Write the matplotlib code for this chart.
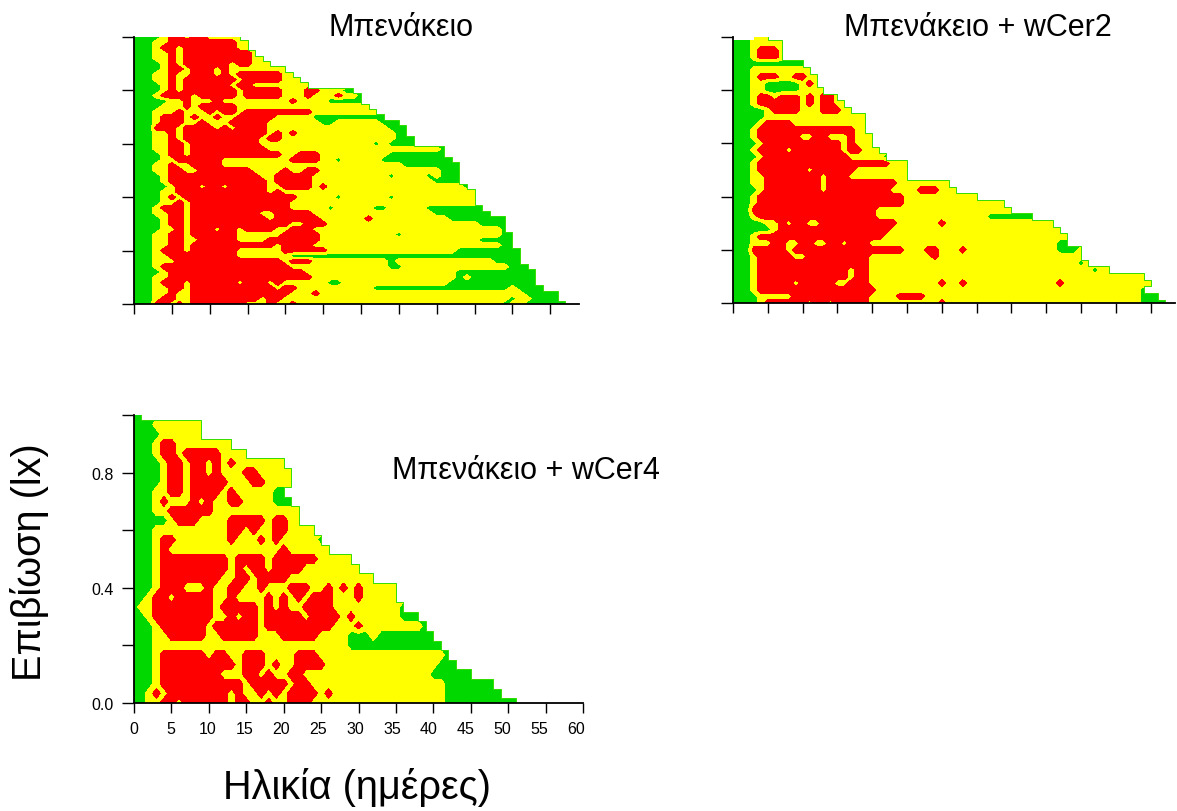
import re
import numpy as np
import matplotlib
matplotlib.use("Agg")
import matplotlib.pyplot as plt
from matplotlib.path import Path

plt.rcParams["font.family"] = ["Liberation Sans", "DejaVu Sans"]

# each row runs from lx=1 (top) to lx=0 (bottom); token = category + age where it stops
benakeio = [
    "G4 Y5 R7 Y8 R10 Y15", "G3 Y5 R14 Y16", "G3 Y4 R6 Y7 R14 Y16", "G3 Y5 R6 Y7 R16 Y17",
    "G3 Y5 R6 Y7 R16 Y18", "G4 Y5 R6 Y7 R13 Y14 R16 Y19", "G4 Y5 R7 Y8 R11 Y12 R13 Y15 Y21",
    "G3 Y5 R6 Y8 R11 Y12 R13 Y14 R20 Y22", "G3 Y5 R6 Y7 R14 Y15 R20 Y23",
    "G4 Y5 R6 Y7 R13 Y14 R16 Y24", "G4 Y5 R6 Y7 R14 Y15 R20 Y23 R25 Y28 G30",
    "G3 Y4 R8 Y9 R14 Y15 R20 Y23 R24 Y27 R28 Y30 G31", "G5 Y7 R8 Y11 R12 Y21 R22 Y26 G31",
    "G4 Y7 R8 Y9 R14 Y24 Y32", "G3 Y6 R7 Y10 R11 Y12 R14 Y15 R24 Y33",
    "G3 Y4 R7 Y8 R9 Y11 R12 Y14 R19 Y24 G34", "G3 Y4 R7 Y9 R10 Y13 R18 Y25 G27 Y33 G36",
    "G3 R6 Y7 R11 Y12 R13 Y14 R18 Y19 Y34 G37", "G3 Y5 R6 Y7 R18 Y19 R20 Y21 R22 Y35 G37",
    "G3 Y5 R6 Y7 R17 Y18 R20 Y35 G38", "G3 Y5 R7 Y8 R17 Y32 G33 Y34 G38",
    "G3 Y5 R7 Y8 R18 Y36 Y41 G42", "G4 Y5 R7 Y8 R20 Y22 R25 Y34 G42",
    "G4 Y6 R12 Y21 R25 Y27 G28 Y33 G43", "G3 Y5 R6 Y8 R12 Y21 Y36 G44",
    "G3 Y5 R7 Y9 R16 Y20 R21 Y23 R25 Y41 G44", "G4 Y5 R17 Y19 R24 Y34 G35 Y39 G40 Y41 G44",
    "G4 Y5 R18 Y19 R24 Y40 G44", "G5 Y6 R9 Y10 R12 Y13 R18 Y20 R24 Y25 R26 Y44 G45",
    "G4 Y6 R18 Y19 R20 Y46", "G4 Y5 R6 Y7 R22 Y27 G28 Y34 G35 Y46", "G4 Y6 R7 Y8 R21 Y46",
    "G3 Y4 R7 Y8 R21 Y26 G27 Y32 G34 Y39 G47", "G3 Y5 R7 Y8 R17 Y19 R24 Y40 G48",
    "G4 Y5 R7 Y8 R18 Y19 R25 Y31 R32 Y42 G50", "G4 Y5 R7 Y8 R21 Y23 R26 Y46 G50",
    "G4 Y6 R7 Y8 R11 Y12 R14 Y15 R19 Y21 R24 Y49 G50", "G3 Y5 R7 Y8 R14 Y20 R25 Y35 G36 Y49 G51",
    "G3 Y5 R7 Y9 R14 Y18 R25 Y46 G51", "G3 Y5 R7 Y8 R19 Y20 R24 Y49 G51",
    "G3 Y4 R7 Y8 R14 Y20 R26 Y43 G52", "G3 Y5 R14 Y20 Y21 G52",
    "G3 Y5 R5 Y6 R20 Y21 R24 Y34 G35 Y48 G52", "G3 Y4 R21 Y24 Y34 G36 Y50 G53",
    "G4 Y5 R21 R23 Y24 Y43 G54", "G3 Y5 R24 Y43 G44 Y45 G54",
    "G3 Y4 R7 Y8 R14 Y15 R18 Y19 R20 Y26 G28 Y42 G54", "G3 Y5 R7 Y8 R19 Y20 R22 Y32 G50 Y51 G55",
    "G3 Y5 R6 Y8 R21 Y24 R25 Y52 G57", "G3 Y4 R6 Y8 R17 Y18 R20 Y50 G51 Y53 G57",
    "G3 R5 Y6 R7 Y8 R15 Y18 R19 Y21 R22 Y49 G50 Y52 G58",
]
wcer2 = [
    "G1 B3 Y6", "G3 Y8", "G3 Y4 R7 Y8", "G3 Y4 R7 Y8", "G11", "G3 Y12", "G3 Y4 R7 Y9 R11 Y13",
    "G3 Y5 G10 Y11 R12 Y13", "G3 Y5 G10 Y14", "G3 Y4 R6 Y7 R10 Y11 R12 Y13 R15 Y16",
    "G3 Y4 R10 Y11 R12 Y13 R15 Y17", "G5 Y6 R10 Y13 R16 Y18", "G5 Y20", "G4 Y5 R9 Y18 Y20",
    "G3 Y4 R18 Y20", "G3 Y4 R10 Y12 R14 Y17 R18 Y21", "G4 Y5 R16 Y17 R18 Y21",
    "G3 Y4 R8 Y9 R16 Y17 R19 Y22", "G4 Y5 R17 Y22 G23", "G3 Y4 R23 Y26", "G3 Y4 R11 Y12 R18 Y26",
    "G3 Y5 R13 Y14 R17 Y26", "G3 Y5 R13 Y14 R24 Y32", "G4 Y5 R13 Y14 R23 Y27 R30 Y33",
    "G3 Y4 R25 Y36", "G3 Y4 R25 Y40", "G3 R21 Y41", "G3 Y4 R21 Y37 G44",
    "G5 Y7 R8 Y9 R11 Y13 R24 Y30 R31 Y47", "G6 Y7 R23 Y48", "G3 Y4 R22 Y49",
    "G3 Y6 R8 Y10 R12 Y14 R16 Y17 R20 Y47 G49", "G3 R8 Y9 R25 Y28 R30 Y33 R34 Y47 G50 Y51",
    "G3 Y4 R9 Y11 R20 Y29 R30 Y51", "G3 Y4 R20 Y50 G51 Y52", "G3 Y4 R17 Y18 R20 Y52 G53 Y55",
    "G3 Y4 R17 Y18 R20 Y60", "G3 Y4 R9 Y10 R15 Y17 R20 Y30 R31 Y33 R34 Y47 R48 Y61",
    "G3 Y4 R21 Y59 G60", "G4 Y9 R12 R20 Y24 R28 Y59 G62", "G4 Y5 R11 Y12 R14 Y15 R20 Y30 R31 Y59 G63",
]
wcer4 = [
    "G2", "G3 Y10", "G4 Y10", "G3 Y4 R6 Y14", "G3 Y4 R6 Y7 R12 Y16",
    "G4 Y5 R7 Y8 R10 Y11 R12 Y13 R14 Y21", "G4 Y5 R7 Y8 R10 Y11 R12 Y15 R17 Y22",
    "G4 Y5 R7 Y8 R13 Y16 R18 Y22", "G3 Y5 R7 Y8 R12 Y13 R14 Y19 G21",
    "G3 Y4 R5 Y8 R9 Y10 R11 Y13 R15 Y19 G22", "G3 Y5 R11 Y23", "G5 Y6 R9 Y13 R18 Y19 R21 Y23",
    "G3 Y13 R15 Y16 R17 Y19 R21 Y25", "G3 Y4 R6 Y13 R14 Y17 R18 Y19 R20 Y25 G26", "G3 Y4 R5 Y20 R21 Y27",
    "G3 Y4 R13 Y14 R18 Y19 R25 Y30", "G3 Y4 R13 Y14 R15 Y16 R18 Y19 R23 Y31",
    "G3 Y4 R12 Y14 R16 Y17 R21 Y33", "G3 Y4 R7 Y10 R11 Y13 R15 Y17 R18 Y21 R24 Y26 R27 Y28 R29 Y30 R31 Y36",
    "G2 Y3 R5 Y6 R11 Y13 R14 Y18 R19 Y20 R21 Y22 R23 Y24 R27 Y30 R31 Y36",
    "G1 Y3 R11 Y12 R17 Y18 R19 Y20 R21 Y23 R27 Y36 G37",
    "G2 Y3 R11 Y13 R14 Y15 R17 Y18 R23 Y24 R28 Y29 R30 Y36 G39",
    "G3 Y4 R10 Y11 R17 Y18 R27 Y30 R31 Y39 G40", "G3 Y5 R10 Y12 R17 Y20 R25 Y29 G32 Y33 G41",
    "G3 Y29 G42", "G3 Y4 R10 Y11 R13 Y15 R18 Y22 R25 Y42 G43",
    "G3 Y4 R14 Y15 R18 Y19 R20 Y22 R26 Y41 G44", "G3 Y4 R12 Y15 R17 Y18 R19 Y21 R23 Y40 G46",
    "G3 Y4 R15 Y16 R21 Y22 R24 Y42 G49", "G2 Y3 R4 Y5 R13 Y14 R15 Y17 R18 Y19 R20 Y21 R25 Y26 R27 Y29 Y42 G50",
    "G2 Y4 R6 Y7 R13 Y14 R16 Y18 R19 Y21 R24 Y42 G52",
]

titles = ["Μπενάκειο", "Μπενάκειο + wCer2", "Μπενάκειο + wCer4"]
x_ticks = list(range(0, 65, 5))
y_ticks = [0.0, 0.2, 0.4, 0.6, 0.8, 1.0]
colors = ["#00d800", "#ffff00", "#ff0000"]
cat_values = {"G": 1, "Y": 2, "R": 3, "B": np.nan}


def make_grid(rows, n_age=66):
    grid = np.full((len(rows), n_age), np.nan)
    for i, row in enumerate(rows):
        start = 0
        for cat, end in re.findall(r"([GYRB])(\d+)", row):
            grid[i, start:int(end)] = cat_values[cat]
            start = int(end)
    return grid


def fill_right(grid):
    # contour under the clip has no holes, the clip gives the staircase edge
    filled = grid.copy()
    for row in filled:
        for j in range(1, len(row)):
            if np.isnan(row[j]):
                row[j] = row[j - 1]
    return filled


def staircase(grid, lx):
    # rectangle per run of valid cells, plus the right hand outline
    dy = abs(lx[1] - lx[0]) / 2
    verts, codes, line_x, line_y = [], [], [], []
    for row, y in zip(grid, lx):
        valid = np.where(~np.isnan(row))[0]
        runs = np.split(valid, np.where(np.diff(valid) > 1)[0] + 1)
        for run in runs:
            a, b = run[0], run[-1]
            verts += [(a, y - dy), (b, y - dy), (b, y + dy), (a, y + dy), (a, y - dy)]
            codes += [Path.MOVETO, Path.LINETO, Path.LINETO, Path.LINETO, Path.CLOSEPOLY]
        line_x += [valid[-1], valid[-1]]
        line_y += [y + dy, y - dy]
    return Path(verts, codes), line_x, line_y


W, H = 1177, 812
fig = plt.figure(figsize=(W / 100, H / 100), dpi=100)


def add_axes(left, right, top, bottom):
    return fig.add_axes([left / W, 1 - bottom / H, (right - left) / W, (bottom - top) / H])


panels = [
    (add_axes(134, 579, 38, 305), benakeio, 58.8, 55),
    (add_axes(733, 1175, 38, 304), wcer2, 63.5, 60),
    (add_axes(134, 583, 416, 704), wcer4, 60, 60),
]

for ax, rows, xmax, last_tick in panels:
    grid = make_grid(rows)
    ages = np.arange(grid.shape[1])
    lx = np.linspace(1, 0, len(rows))
    cs = ax.contourf(ages, lx, fill_right(grid), levels=[0.5, 1.5, 2.5, 3.5], colors=colors)
    clip, line_x, line_y = staircase(grid, lx)
    cs.set_clip_path(clip, ax.transData)
    ax.plot(line_x, line_y, color="#33dd00", lw=0.7)
    ax.set_xlim(0, xmax)
    ax.set_ylim(0, 1)
    ax.spines["top"].set_visible(False)
    ax.spines["right"].set_visible(False)
    ax.spines["left"].set_linewidth(1.3)
    ax.spines["bottom"].set_linewidth(1.3)
    ax.set_xticks([t for t in x_ticks if t <= last_tick])
    ax.set_yticks(y_ticks)
    ax.tick_params(axis="x", length=7, width=1)
    ax.tick_params(axis="y", length=8.6, width=1)
    ax.set_xticklabels([])
    ax.set_yticklabels([])

ax3 = panels[2][0]
# the age labels sit slightly tighter than the ticks in the original
for t in x_ticks:
    ax3.annotate(str(t), xy=(t * 0.985, 0), xycoords=ax3.get_xaxis_transform(),
                 xytext=(0, -26), textcoords="offset pixels",
                 fontsize=11.5, ha="center", va="center")
ax3.set_yticklabels(["0.0", "", "0.4", "", "0.8", ""], fontsize=11.5)
ax3.tick_params(axis="y", pad=6)

# Títulos e eixos
fig.text(401 / W, 1 - 28 / H, titles[0], fontsize=22, ha="center", va="center")
fig.text(978 / W, 1 - 28 / H, titles[1], fontsize=22, ha="center", va="center")
fig.text(526 / W, 1 - 471 / H, titles[2], fontsize=22, ha="center", va="center")
fig.text(30 / W, 1 - 562 / H, "Επιβίωση (lx)", fontsize=28.5, rotation=90, ha="center", va="center")
fig.text(357 / W, 1 - 788 / H, "Ηλικία (ημέρες)", fontsize=28.5, ha="center", va="center")

fig.savefig("out.png", dpi=100)
